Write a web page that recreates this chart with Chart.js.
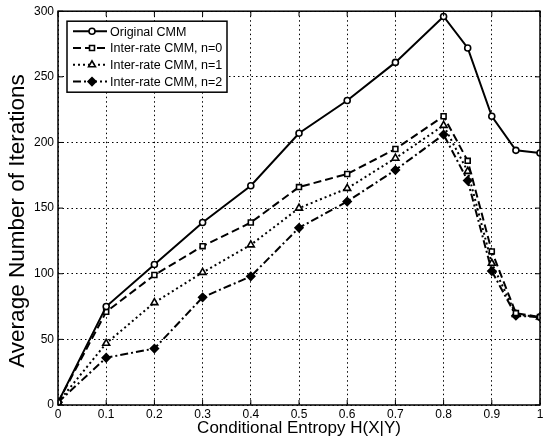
<!DOCTYPE html>
<html>
<head>
<meta charset="utf-8">
<script src="https://cdn.jsdelivr.net/npm/chart.js@4/dist/chart.umd.min.js"></script>
<style>
  html, body { margin: 0; padding: 0; background: #fff; }
  #wrap { width: 551px; height: 445px; }
</style>
</head>
<body>
<div id="wrap"><canvas id="chart" width="551" height="445"></canvas></div>
<script>
// entropy values on the x axis
const entropy = [0, 0.1, 0.2, 0.3, 0.4, 0.5, 0.6, 0.7, 0.8, 0.85, 0.9, 0.95, 1];

// average number of iterations
const originalCMM = [2, 75, 107, 139, 167, 207, 232, 261, 296, 272, 220, 194, 192];
const interN0 = [2, 71, 99, 121, 139, 166, 176, 195, 220, 186, 117, 70, 67];
const interN1 = [2, 47, 78, 101, 122, 150, 165, 188, 213, 178, 108, 69, 67];
const interN2 = [2, 36, 43, 82, 98, 135, 155, 179, 206, 171, 102, 68, 67];

const seriesNames = ['Original CMM', 'Inter-rate CMM, n=0', 'Inter-rate CMM, n=1', 'Inter-rate CMM, n=2'];

const xTicks = [0, 0.1, 0.2, 0.3, 0.4, 0.5, 0.6, 0.7, 0.8, 0.9, 1];
const yTicks = [0, 50, 100, 150, 200, 250, 300];

const yTitle = 'Average Number of Iterations';
const FONT = '"Liberation Sans", Arial, sans-serif';

function toPoints(ys) {
    return entropy.map((x, i) => ({ x: x, y: ys[i] }));
}

function makeSet(label, ys, dash, style, radius, fill) {
    return {
        label: label,
        data: toPoints(ys),
        borderColor: '#000',
        borderWidth: 2,
        borderDash: dash,
        pointStyle: style,
        pointRadius: radius,
        pointBackgroundColor: fill,
        pointBorderColor: '#000',
        pointBorderWidth: 1.6,
        tension: 0,
        fill: false
    };
}

const datasets = [
    makeSet(seriesNames[0], originalCMM, [], 'circle', 3, '#fff'),
    makeSet(seriesNames[1], interN0, [8, 4], 'rect', 3.5, '#fff'),
    makeSet(seriesNames[2], interN1, [2, 3], 'triangle', 4, '#fff'),
    makeSet(seriesNames[3], interN2, [8, 3, 2, 3], 'rectRot', 4, '#000')
];

// frame around the plot, inward ticks, y title and MATLAB style legend box
const frameAndLegend = {
    id: 'frameAndLegend',
    afterDraw(chart) {
        const ctx = chart.ctx;
        const a = chart.chartArea;
        ctx.save();
        ctx.strokeStyle = '#000';
        ctx.lineWidth = 1.5;
        ctx.setLineDash([]);
        ctx.strokeRect(a.left, a.top, a.right - a.left, a.bottom - a.top);

        ctx.lineWidth = 1;
        const xs = chart.scales.x, ys = chart.scales.y;
        xs.ticks.forEach(t => {
            const px = xs.getPixelForValue(t.value);
            ctx.beginPath();
            ctx.moveTo(px, a.bottom); ctx.lineTo(px, a.bottom - 5);
            ctx.moveTo(px, a.top); ctx.lineTo(px, a.top + 5);
            ctx.stroke();
        });
        ys.ticks.forEach(t => {
            const py = ys.getPixelForValue(t.value);
            ctx.beginPath();
            ctx.moveTo(a.left, py); ctx.lineTo(a.left + 5, py);
            ctx.moveTo(a.right, py); ctx.lineTo(a.right - 5, py);
            ctx.stroke();
        });

        // y axis title, sits a bit below the middle like the original
        ctx.save();
        ctx.translate(18, 221);
        ctx.rotate(-Math.PI / 2);
        ctx.fillStyle = '#000';
        ctx.font = '22.5px ' + FONT;
        ctx.textAlign = 'center';
        ctx.textBaseline = 'middle';
        ctx.fillText(yTitle, 0, 0);
        ctx.restore();

        // legend
        const bx = a.left + 9, by = a.top + 10, bw = 160, bh = 71;
        ctx.fillStyle = '#fff';
        ctx.fillRect(bx, by, bw, bh);
        ctx.lineWidth = 1.5;
        ctx.strokeRect(bx, by, bw, bh);
        ctx.font = '12.5px ' + FONT;
        ctx.textBaseline = 'middle';
        chart.data.datasets.forEach((ds, i) => {
            const ly = by + 10 + i * 16.8;
            ctx.setLineDash(ds.borderDash);
            ctx.lineWidth = 2;
            ctx.strokeStyle = '#000';
            ctx.beginPath();
            ctx.moveTo(bx + 6, ly); ctx.lineTo(bx + 40, ly);
            ctx.stroke();
            ctx.setLineDash([]);
            ctx.lineWidth = 1.6;
            ctx.fillStyle = ds.pointBackgroundColor;
            Chart.helpers.drawPoint(ctx, {
                pointStyle: ds.pointStyle,
                radius: ds.pointRadius,
                borderWidth: 1.6
            }, bx + 25, ly);
            ctx.fillStyle = '#000';
            ctx.fillText(ds.label, bx + 43, ly + 1);
        });
        ctx.restore();
    }
};

const config = {
    type: 'line',
    data: { datasets: datasets },
    options: {
        responsive: false,
        animation: false,
        layout: { padding: { left: 0, right: 11, top: 9, bottom: 0 } },
        plugins: {
            legend: { display: false },
            tooltip: { enabled: false }
        },
        scales: {
            x: {
                type: 'linear',
                min: 0,
                max: 1,
                afterBuildTicks: (s) => { s.ticks = xTicks.map(v => ({ value: v })); },
                ticks: {
                    color: '#000',
                    padding: 2,
                    maxRotation: 0,
                    font: { family: FONT, size: 12 },
                    callback: (v) => String(Math.round(v * 10) / 10)
                },
                grid: { color: '#000', lineWidth: 1, drawTicks: false },
                border: { display: false, dash: [1.5, 3] },
                title: {
                    display: true,
                    text: 'Conditional Entropy H(X|Y)',
                    color: '#000',
                    padding: { top: 0, bottom: 6 },
                    font: { family: FONT, size: 17 }
                },
                afterFit: (s) => { s.height = 40; }
            },
            y: {
                min: 0,
                max: 300,
                afterBuildTicks: (s) => { s.ticks = yTicks.map(v => ({ value: v })); },
                ticks: {
                    color: '#000',
                    padding: 4,
                    font: { family: FONT, size: 12 }
                },
                grid: { color: '#000', lineWidth: 1, drawTicks: false },
                border: { display: false, dash: [1.5, 3] },
                title: { display: false },
                afterFit: (s) => { s.width = 58; }
            }
        }
    },
    plugins: [frameAndLegend]
};

const myChart = new Chart(document.getElementById('chart'), config);
</script>
</body>
</html>
